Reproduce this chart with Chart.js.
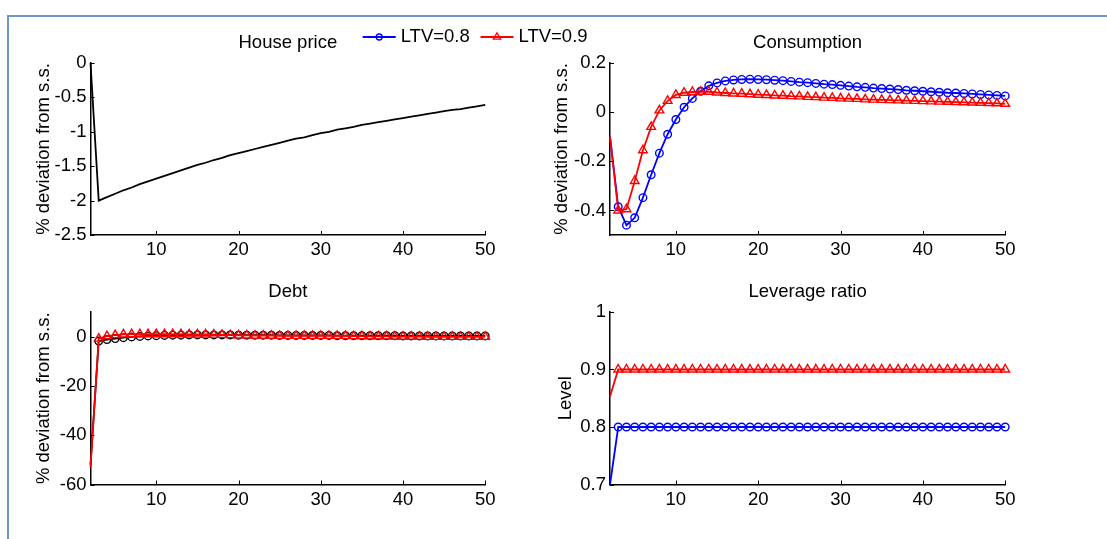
<!DOCTYPE html>
<html>
<head>
<meta charset="utf-8">
<script src="https://cdn.jsdelivr.net/npm/chart.js@4.4.1/dist/chart.umd.min.js"></script>
<style>
  html, body { margin: 0; padding: 0; background: #fff; overflow: hidden; }
  body { width: 1107px; height: 539px; position: relative; }
  #frame { position: absolute; left: 7px; top: 15px; width: 1200px; height: 600px;
           border-top: 2px solid #6c95ca; border-left: 2px solid #6c95ca; }
  canvas { position: absolute; }
</style>
</head>
<body>
<div id="frame"></div>
<canvas id="housePrice" width="620" height="270" style="left:0;top:0"></canvas>
<canvas id="consumption" width="567" height="270" style="left:540px;top:0"></canvas>
<canvas id="debt" width="540" height="269" style="left:0;top:270px"></canvas>
<canvas id="leverage" width="567" height="269" style="left:540px;top:270px"></canvas>
<script>
// periods shown on the x axis
const periods = [2, 3, 4, 5, 6, 7, 8, 9, 10, 11,
  12, 13, 14, 15, 16, 17, 18, 19, 20, 21,
  22, 23, 24, 25, 26, 27, 28, 29, 30, 31,
  32, 33, 34, 35, 36, 37, 38, 39, 40, 41,
  42, 43, 44, 45, 46, 47, 48, 49, 50];
const xTicks = [10, 20, 30, 40, 50];
const seriesLabels = ["LTV=0.8", "LTV=0.9"];

const housePrice = [0, -2.00, -1.95, -1.90, -1.85, -1.81, -1.76, -1.72, -1.68, -1.64,
  -1.60, -1.56, -1.52, -1.48, -1.45, -1.41, -1.38, -1.34, -1.31, -1.28,
  -1.25, -1.22, -1.19, -1.16, -1.13, -1.10, -1.08, -1.05, -1.02, -1.00,
  -0.97, -0.95, -0.93, -0.90, -0.88, -0.86, -0.84, -0.82, -0.80, -0.78,
  -0.76, -0.74, -0.72, -0.70, -0.68, -0.67, -0.65, -0.63, -0.61];
const housePriceTicks = [-2.5, -2, -1.5, -1, -0.5, 0];

const consLtv08 = [-0.10, -0.385, -0.46, -0.43, -0.348, -0.255, -0.167, -0.09, -0.03, 0.02,
  0.056, 0.085, 0.107, 0.119, 0.127, 0.131, 0.133, 0.134, 0.133, 0.132,
  0.130, 0.128, 0.125, 0.122, 0.120, 0.117, 0.114, 0.112, 0.109, 0.106,
  0.103, 0.101, 0.098, 0.096, 0.094, 0.092, 0.089, 0.087, 0.085, 0.083,
  0.081, 0.079, 0.078, 0.076, 0.074, 0.072, 0.070, 0.068, 0.066];
const consLtv09 = [-0.10, -0.40, -0.395, -0.28, -0.155, -0.06, 0.007, 0.046, 0.07, 0.079,
  0.082, 0.083, 0.083, 0.080, 0.078, 0.076, 0.075, 0.073, 0.071, 0.070,
  0.068, 0.067, 0.065, 0.064, 0.062, 0.061, 0.059, 0.058, 0.056, 0.055,
  0.054, 0.052, 0.051, 0.050, 0.049, 0.048, 0.047, 0.046, 0.045, 0.044,
  0.043, 0.042, 0.041, 0.040, 0.039, 0.038, 0.037, 0.036, 0.034];
const consTicks = [-0.4, -0.2, 0, 0.2];

const debtLtv08 = [-52, -1.8, -1.2, -0.8, -0.4, -0.1, 0.1, 0.3, 0.4, 0.5,
  0.6, 0.6, 0.7, 0.7, 0.7, 0.7, 0.7, 0.7, 0.6, 0.6,
  0.6, 0.6, 0.6, 0.5, 0.5, 0.5, 0.5, 0.5, 0.5, 0.5,
  0.4, 0.4, 0.4, 0.4, 0.4, 0.4, 0.4, 0.4, 0.3, 0.3,
  0.3, 0.3, 0.3, 0.3, 0.3, 0.3, 0.3, 0.3, 0.3];
const debtLtv09 = [-53, -0.8, 0.2, 0.6, 0.9, 1.0, 1.0, 1.0, 1.0, 1.0,
  1.0, 1.0, 0.9, 0.9, 0.9, 0.8, 0.7, 0.6, 0.5, 0.5,
  0.4, 0.4, 0.4, 0.3, 0.3, 0.3, 0.3, 0.3, 0.3, 0.3,
  0.3, 0.3, 0.2, 0.2, 0.1, 0.1, 0.1, 0.0, 0.0, 0.0,
  0.0, -0.1, -0.1, -0.1, -0.1, -0.1, -0.1, -0.1, -0.1];
const debtTicks = [-60, -40, -20, 0];

const levLtv08 = [0.70, 0.80, 0.80, 0.80, 0.80, 0.80, 0.80, 0.80, 0.80, 0.80,
  0.80, 0.80, 0.80, 0.80, 0.80, 0.80, 0.80, 0.80, 0.80, 0.80,
  0.80, 0.80, 0.80, 0.80, 0.80, 0.80, 0.80, 0.80, 0.80, 0.80,
  0.80, 0.80, 0.80, 0.80, 0.80, 0.80, 0.80, 0.80, 0.80, 0.80,
  0.80, 0.80, 0.80, 0.80, 0.80, 0.80, 0.80, 0.80, 0.80];
const levLtv09 = [0.853, 0.90, 0.90, 0.90, 0.90, 0.90, 0.90, 0.90, 0.90, 0.90,
  0.90, 0.90, 0.90, 0.90, 0.90, 0.90, 0.90, 0.90, 0.90, 0.90,
  0.90, 0.90, 0.90, 0.90, 0.90, 0.90, 0.90, 0.90, 0.90, 0.90,
  0.90, 0.90, 0.90, 0.90, 0.90, 0.90, 0.90, 0.90, 0.90, 0.90,
  0.90, 0.90, 0.90, 0.90, 0.90, 0.90, 0.90, 0.90, 0.90];
const levTicks = [0.7, 0.8, 0.9, 1];

const FONT = { family: "'Liberation Sans', Arial, Helvetica, sans-serif", size: 18.5, weight: "normal" };
Chart.defaults.font.family = FONT.family;
Chart.defaults.font.size = FONT.size;
Chart.defaults.color = "#000";

// MATLAB style tick marks pointing into the plot
const inTicks = {
  id: "inTicks",
  afterDatasetsDraw(chart) {
    const { ctx, chartArea, scales: { x, y } } = chart;
    ctx.save();
    ctx.strokeStyle = "#000";
    ctx.lineWidth = 1;
    ctx.beginPath();
    x.ticks.forEach(t => {
      const px = Math.round(x.getPixelForValue(t.value)) + 0.5;
      ctx.moveTo(px, chartArea.bottom);
      ctx.lineTo(px, chartArea.bottom - 4);
    });
    y.ticks.forEach(t => {
      const py = Math.round(y.getPixelForValue(t.value)) + 0.5;
      ctx.moveTo(chartArea.left, py);
      ctx.lineTo(chartArea.left + 4, py);
    });
    ctx.stroke();
    ctx.restore();
  }
};

// legend box that sits between the two top panels
const ltvLegend = {
  id: "ltvLegend",
  afterDraw(chart, args, opts) {
    if (!opts.items) return;
    const ctx = chart.ctx;
    const y = opts.y;
    ctx.save();
    opts.items.forEach(it => {
      ctx.strokeStyle = it.color;
      ctx.lineWidth = 1.8;
      ctx.beginPath();
      ctx.moveTo(it.x, y);
      ctx.lineTo(it.x + 33, y);
      ctx.stroke();
      const cx = it.x + 16.5;
      ctx.lineWidth = 1.3;
      ctx.beginPath();
      if (it.style === "circle") {
        ctx.arc(cx, y, 3, 0, Math.PI * 2);
      } else {
        const r = 4.2;
        ctx.moveTo(cx, y - r);
        ctx.lineTo(cx + 0.866 * r, y + 0.5 * r);
        ctx.lineTo(cx - 0.866 * r, y + 0.5 * r);
        ctx.closePath();
      }
      ctx.stroke();
      ctx.fillStyle = "#000";
      ctx.font = FONT.size + "px " + FONT.family;
      ctx.textBaseline = "middle";
      ctx.textAlign = "left";
      ctx.fillText(it.text, it.x + 38, y);
    });
    ctx.restore();
  }
};

function series(label, values, color, style, radius, order) {
  return {
    label: label,
    data: periods.map((t, i) => ({ x: t, y: values[i] })),
    borderColor: color,
    borderWidth: 1.8,
    pointStyle: style || "circle",
    pointRadius: c => (!style || c.dataIndex === 0) ? 0 : radius,
    pointHoverRadius: 0,
    pointBorderColor: color,
    pointBackgroundColor: "rgba(0,0,0,0)",
    pointBorderWidth: 1.4,
    tension: 0,
    fill: false,
    clip: false,
    order: order
  };
}

function panel(id, p) {
  new Chart(document.getElementById(id), {
    type: "line",
    data: { datasets: p.datasets },
    plugins: [inTicks, ltvLegend],
    options: {
      responsive: false,
      animation: false,
      events: [],
      layout: { padding: { left: 0, right: p.padRight, top: 0, bottom: 0 } },
      plugins: {
        legend: { display: false },
        tooltip: { enabled: false },
        title: {
          display: true, text: p.title, fullSize: false, color: "#000",
          font: FONT, padding: { top: p.titleTop, bottom: p.titleBottom }
        },
        ltvLegend: p.legend || {}
      },
      scales: {
        x: {
          type: "linear", min: 2, max: 50,
          afterBuildTicks: s => { s.ticks = xTicks.map(v => ({ value: v })); },
          afterFit: s => { s.height = p.xHeight; },
          grid: { display: false, drawTicks: false },
          border: { display: true, color: "#000", width: 1.5 },
          ticks: { padding: 4, maxRotation: 0, autoSkip: false, color: "#000", font: FONT,
                   callback: v => String(v) }
        },
        y: {
          type: "linear", min: p.yMin, max: p.yMax,
          afterBuildTicks: s => { s.ticks = p.yTicks.map(v => ({ value: v })); },
          afterFit: s => { s.width = p.yWidth; },
          grid: { display: false, drawTicks: false },
          border: { display: true, color: "#000", width: 1.5 },
          ticks: { padding: 4, color: "#000", font: FONT, callback: v => String(v) },
          title: { display: true, text: p.yTitle, color: "#000", font: FONT,
                   padding: { top: p.yTitlePad, bottom: 0 } }
        }
      }
    }
  });
}

panel("housePrice", {
  title: "House price", yTitle: "% deviation from s.s.",
  yMin: -2.5, yMax: 0, yTicks: housePriceTicks,
  datasets: [series("House price", housePrice, "#000", null, 0, 0)],
  padRight: 134.8, yWidth: 90.5, yTitlePad: 32.9,
  titleTop: 32.2, titleBottom: 8.6, xHeight: 35,
  legend: {
    y: 37,
    items: [
      { x: 362.7, color: "#0000ff", style: "circle", text: seriesLabels[0] },
      { x: 480.5, color: "#ff0000", style: "triangle", text: seriesLabels[1] }
    ]
  }
});

panel("consumption", {
  title: "Consumption", yTitle: "% deviation from s.s.",
  yMin: -0.5, yMax: 0.2, yTicks: consTicks,
  datasets: [
    series(seriesLabels[0], consLtv08, "#0000ff", "circle", 3.8, 1),
    series(seriesLabels[1], consLtv09, "#ff0000", "triangle", 5, 0)
  ],
  padRight: 101.8, yWidth: 70, yTitlePad: 10.9,
  titleTop: 32.2, titleBottom: 8.6, xHeight: 35
});

panel("debt", {
  title: "Debt", yTitle: "% deviation from s.s.",
  yMin: -60, yMax: 10, yTicks: debtTicks,
  datasets: [
    series(seriesLabels[0], debtLtv08, "#000", "circle", 3.8, 1),
    series(seriesLabels[1], debtLtv09, "#ff0000", "triangle", 5, 0)
  ],
  padRight: 54.8, yWidth: 90.5, yTitlePad: 32.9,
  titleTop: 10.6, titleBottom: 9.2, xHeight: 54.5
});

panel("leverage", {
  title: "Leverage ratio", yTitle: "Level",
  yMin: 0.7, yMax: 1, yTicks: levTicks,
  datasets: [
    series(seriesLabels[0], levLtv08, "#0000ff", "circle", 3.8, 1),
    series(seriesLabels[1], levLtv09, "#ff0000", "triangle", 5, 0)
  ],
  padRight: 101.8, yWidth: 70, yTitlePad: 14.9,
  titleTop: 10.6, titleBottom: 9.2, xHeight: 54.5
});
</script>
</body>
</html>
